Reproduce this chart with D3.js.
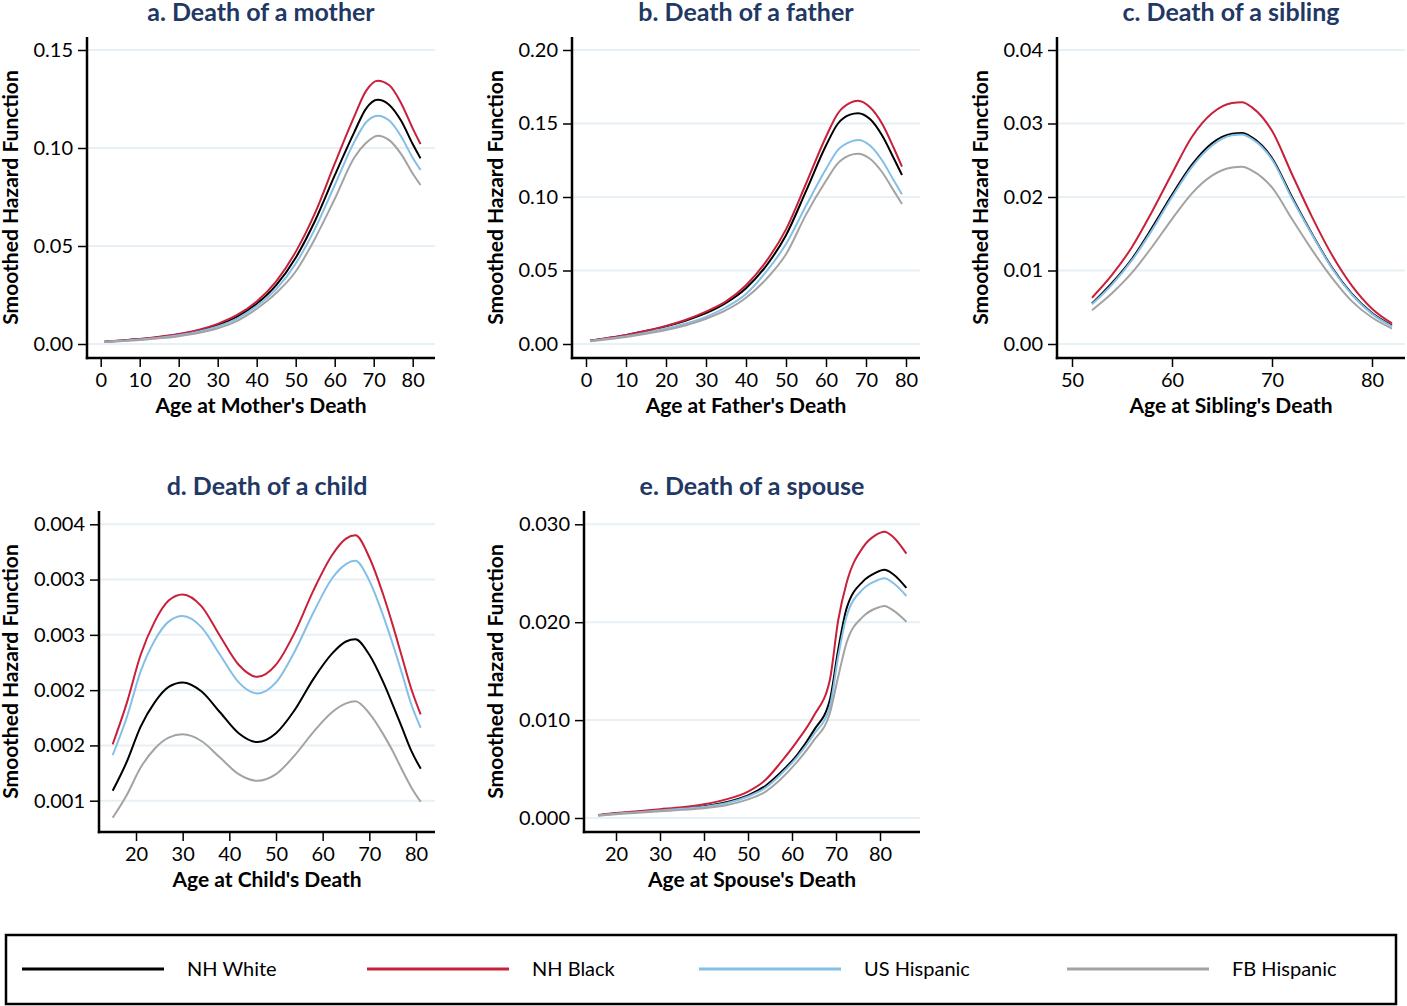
<!DOCTYPE html>
<html><head><meta charset="utf-8">
<script src="https://cdn.jsdelivr.net/npm/d3@7"></script>
<style>
body{margin:0;background:#fff;}
svg{display:block;font-family:Lato,'Open Sans',sans-serif;}
</style>
</head><body>
<svg id="chart" width="1407" height="1006"></svg>
<script>
// ---------- DATA ----------
const seriesNames = ["NH White", "NH Black", "US Hispanic", "FB Hispanic"];

// a. Death of a mother
const motherAges   = [1,5,10,15,20,25,30,35,40,45,50,55,60,65,68,71,74,77,80,82];
const motherWhite  = [0.0012,0.0017,0.0025,0.0035,0.0048,0.0068,0.0097,0.014,0.0205,0.030,0.044,0.063,0.086,0.108,0.120,0.1246,0.122,0.114,0.102,0.0947];
const motherBlack  = [0.0013,0.0018,0.0026,0.0037,0.0051,0.0072,0.0103,0.0148,0.0217,0.032,0.047,0.067,0.092,0.116,0.129,0.1343,0.132,0.123,0.110,0.102];
const motherUSHisp = [0.0011,0.0016,0.0023,0.0032,0.0045,0.0063,0.009,0.013,0.0194,0.028,0.041,0.059,0.081,0.103,0.113,0.1165,0.114,0.106,0.095,0.0888];
const motherFBHisp = [0.001,0.0014,0.002,0.0029,0.004,0.0056,0.008,0.0118,0.018,0.026,0.037,0.054,0.074,0.095,0.1025,0.1063,0.104,0.097,0.087,0.0811];
const motherXTicks = [0,10,20,30,40,50,60,70,80];
const motherYTicks = [0,0.05,0.10,0.15];
const motherYLabels = ["0.00","0.05","0.10","0.15"];

// b. Death of a father
const fatherAges   = [1,5,10,15,20,25,30,35,40,45,50,55,60,63,66,68,71,74,77,79];
const fatherWhite  = [0.0022,0.0038,0.006,0.0088,0.012,0.016,0.021,0.028,0.038,0.053,0.074,0.104,0.135,0.150,0.156,0.157,0.153,0.142,0.126,0.115];
const fatherBlack  = [0.0023,0.004,0.0062,0.009,0.0123,0.0165,0.022,0.029,0.040,0.056,0.078,0.109,0.141,0.157,0.164,0.1655,0.161,0.150,0.133,0.1206];
const fatherUSHisp = [0.002,0.0034,0.0053,0.0077,0.0105,0.014,0.0185,0.025,0.034,0.049,0.068,0.094,0.119,0.132,0.1375,0.1388,0.135,0.125,0.111,0.1018];
const fatherFBHisp = [0.0018,0.003,0.0048,0.007,0.0095,0.0128,0.0172,0.023,0.0315,0.044,0.061,0.088,0.111,0.123,0.1285,0.1295,0.126,0.117,0.104,0.0952];
const fatherXTicks = [0,10,20,30,40,50,60,70,80];
const fatherYTicks = [0,0.05,0.10,0.15,0.20];
const fatherYLabels = ["0.00","0.05","0.10","0.15","0.20"];

// c. Death of a sibling
const siblingAges   = [52,54,56,58,60,62,64,66,67,68,70,72,74,76,78,80,82];
const siblingWhite  = [0.0055,0.0083,0.0116,0.0158,0.0203,0.0244,0.0273,0.0286,0.0287,0.0281,0.0253,0.0200,0.0150,0.0104,0.0068,0.0042,0.0025];
const siblingBlack  = [0.0063,0.0094,0.0132,0.0180,0.0232,0.0282,0.0314,0.0328,0.0329,0.0322,0.0290,0.0231,0.0173,0.0121,0.0079,0.0048,0.0028];
const siblingUSHisp = [0.0054,0.0081,0.0114,0.0155,0.0200,0.0241,0.0270,0.0284,0.0285,0.0279,0.0251,0.0198,0.0149,0.0103,0.0067,0.0041,0.0024];
const siblingFBHisp = [0.0046,0.0069,0.0097,0.0132,0.0170,0.0205,0.0229,0.0240,0.0241,0.0236,0.0213,0.0170,0.0128,0.0090,0.0058,0.0036,0.0021];
const siblingXTicks = [50,60,70,80];
const siblingYTicks = [0,0.01,0.02,0.03,0.04];
const siblingYLabels = ["0.00","0.01","0.02","0.03","0.04"];

// d. Death of a child
const childAges   = [15,18,21,24,27,30,34,38,42,46,50,54,58,62,65,67,70,73,75,77,79,81];
const childWhite  = [0.00109,0.00135,0.00167,0.00189,0.00203,0.00207,0.00199,0.00180,0.00161,0.00153,0.00161,0.00182,0.00210,0.00233,0.00244,0.00246,0.00232,0.00207,0.00187,0.00166,0.00145,0.00129];
const childBlack  = [0.00151,0.00188,0.00232,0.00262,0.00281,0.002866,0.00276,0.00249,0.00223,0.00212,0.00223,0.00252,0.00290,0.00322,0.00337,0.0034,0.00320,0.00286,0.00259,0.00230,0.00201,0.00178];
const childUSHisp = [0.001413,0.00175,0.00217,0.00245,0.00262,0.00267,0.00257,0.00232,0.00207,0.00197,0.00207,0.00235,0.00270,0.00301,0.00314,0.00317,0.00299,0.00267,0.00242,0.00215,0.00187,0.00166];
const childFBHisp = [0.000846,0.00105,0.0013,0.00147,0.00157,0.0016,0.00154,0.00139,0.00124,0.00118,0.00124,0.00141,0.00162,0.0018,0.00188,0.0019,0.00179,0.0016,0.00145,0.00128,0.00112,0.00099];
const childXTicks = [20,30,40,50,60,70,80];
const childYTicks = [0.001,0.0015,0.002,0.0025,0.003,0.0035];
const childYLabels = ["0.001","0.002","0.002","0.003","0.003","0.004"];

// e. Death of a spouse
const spouseAges   = [16,20,25,30,35,40,45,50,54,57.3,61.1,64.9,68.6,70.5,72.4,76.2,79,81,83,86];
const spouseWhite  = [0.00028,0.00045,0.00063,0.0008,0.00098,0.0012,0.0016,0.0023,0.0033,0.0046,0.0064,0.0089,0.01205,0.0172,0.0214,0.0242,0.02505,0.02535,0.0249,0.0235];
const spouseBlack  = [0.0003,0.0005,0.0007,0.0009,0.0011,0.0014,0.0019,0.0027,0.0039,0.0056,0.0078,0.0104,0.0141,0.0202,0.0240,0.0277,0.0289,0.02925,0.0287,0.0270];
const spouseUSHisp = [0.00028,0.00044,0.0006,0.00077,0.00094,0.00115,0.0015,0.0022,0.0031,0.0044,0.0062,0.0085,0.01137,0.0165,0.0206,0.0234,0.0242,0.02448,0.0240,0.02268];
const spouseFBHisp = [0.00022,0.00038,0.00053,0.00068,0.00083,0.001,0.0013,0.0019,0.0027,0.0039,0.0057,0.0079,0.0107,0.01443,0.0179,0.0206,0.0214,0.02166,0.0212,0.02005];
const spouseXTicks = [20,30,40,50,60,70,80];
const spouseYTicks = [0,0.01,0.02,0.03];
const spouseYLabels = ["0.000","0.010","0.020","0.030"];

// ---------- STYLE / LAYOUT ----------
const colors = ["#000000", "#c8203a", "#84bfe8", "#a3a3a3"];
const titleColor = "#1f3864";
const gridColor = "#e7f0f4";
const yTitle = "Smoothed Hazard Function";

const panels = [
  {title:"a. Death of a mother", xTitle:"Age at Mother's Death", ages:motherAges,
   series:[motherWhite,motherBlack,motherUSHisp,motherFBHisp],
   xTicks:motherXTicks, yTicks:motherYTicks, yLabels:motherYLabels,
   box:{l:87,r:435,t:37,b:358}, xd:[0,80], xr:[100.7,412.7], yd:[0,0.15], yr:[344,50], yTitleX:18},
  {title:"b. Death of a father", xTitle:"Age at Father's Death", ages:fatherAges,
   series:[fatherWhite,fatherBlack,fatherUSHisp,fatherFBHisp],
   xTicks:fatherXTicks, yTicks:fatherYTicks, yLabels:fatherYLabels,
   box:{l:572,r:920,t:37,b:358}, xd:[0,80], xr:[586,906], yd:[0,0.20], yr:[344,50], yTitleX:503},
  {title:"c. Death of a sibling", xTitle:"Age at Sibling's Death", ages:siblingAges,
   series:[siblingWhite,siblingBlack,siblingUSHisp,siblingFBHisp],
   xTicks:siblingXTicks, yTicks:siblingYTicks, yLabels:siblingYLabels,
   box:{l:1057,r:1405,t:37,b:358}, xd:[50,80], xr:[1072,1372], yd:[0,0.04], yr:[344,50], yTitleX:988},
  {title:"d. Death of a child", xTitle:"Age at Child's Death", ages:childAges,
   series:[childWhite,childBlack,childUSHisp,childFBHisp],
   xTicks:childXTicks, yTicks:childYTicks, yLabels:childYLabels,
   box:{l:99,r:435,t:511,b:832}, xd:[20,80], xr:[136,416], yd:[0.001,0.0035], yr:[800.7,524.3], yTitleX:18},
  {title:"e. Death of a spouse", xTitle:"Age at Spouse's Death", ages:spouseAges,
   series:[spouseWhite,spouseBlack,spouseUSHisp,spouseFBHisp],
   xTicks:spouseXTicks, yTicks:spouseYTicks, yLabels:spouseYLabels,
   box:{l:584,r:920,t:511,b:832}, xd:[20,80], xr:[616,880], yd:[0,0.03], yr:[818,524.3], yTitleX:503}
];

const svg = d3.select("#chart");

panels.forEach(p => {
  const g = svg.append("g");
  const x = d3.scaleLinear().domain(p.xd).range(p.xr);
  const y = d3.scaleLinear().domain(p.yd).range(p.yr);
  const B = p.box;

  // gridlines
  g.selectAll("line.grid").data(p.yTicks).join("line")
    .attr("x1", B.l).attr("x2", B.r)
    .attr("y1", d => y(d)).attr("y2", d => y(d))
    .attr("stroke", gridColor).attr("stroke-width", 2);

  // series lines
  const line = d3.line().x((d,i) => x(p.ages[i])).y(d => y(d)).curve(d3.curveMonotoneX);
  p.series.forEach((s, k) => {
    g.append("path").attr("d", line(s)).attr("fill","none")
      .attr("stroke", colors[k]).attr("stroke-width", 2);
  });

  // y axis
  const ya = g.append("g").attr("transform", `translate(${B.l},0)`)
    .call(d3.axisLeft(y).tickValues(p.yTicks).tickFormat((d,i) => p.yLabels[i]).tickSize(9).tickPadding(5).tickSizeOuter(0));
  ya.select(".domain").remove();
  ya.selectAll(".tick line").attr("stroke","#000").attr("stroke-width",1.5);
  ya.selectAll(".tick text").attr("font-size",20).attr("fill","#000").attr("font-family","Lato,'Open Sans',sans-serif");

  // x axis
  const xa = g.append("g").attr("transform", `translate(0,${B.b})`)
    .call(d3.axisBottom(x).tickValues(p.xTicks).tickFormat(d3.format("d")).tickSize(9).tickPadding(6).tickSizeOuter(0));
  xa.select(".domain").remove();
  xa.selectAll(".tick line").attr("stroke","#000").attr("stroke-width",1.5);
  xa.selectAll(".tick text").attr("font-size",20).attr("fill","#000").attr("font-family","Lato,'Open Sans',sans-serif");

  // axis lines
  g.append("line").attr("x1",B.l).attr("x2",B.l).attr("y1",B.t).attr("y2",B.b+1.2)
    .attr("stroke","#000").attr("stroke-width",2.5);
  g.append("line").attr("x1",B.l-1.2).attr("x2",B.r).attr("y1",B.b).attr("y2",B.b)
    .attr("stroke","#000").attr("stroke-width",2.5);

  // titles
  const cx = (B.l + B.r) / 2;
  g.append("text").attr("x",cx).attr("y",B.t-16).attr("text-anchor","middle")
    .attr("font-size",25).attr("font-weight","bold").attr("fill",titleColor).text(p.title);
  g.append("text").attr("x",cx).attr("y",B.b+54.5).attr("text-anchor","middle")
    .attr("font-size",21).attr("font-weight","bold").attr("fill","#000").text(p.xTitle);
  g.append("text").attr("transform",`translate(${p.yTitleX},${(B.t+B.b)/2}) rotate(-90)`)
    .attr("text-anchor","middle").attr("font-size",21).attr("font-weight","bold").attr("fill","#000").text(yTitle);
});

// legend
const legend = svg.append("g");
legend.append("rect").attr("x",6).attr("y",935).attr("width",1390).attr("height",69)
  .attr("fill","none").attr("stroke","#000").attr("stroke-width",2.5);
const legendX = [22, 367, 699, 1067];
seriesNames.forEach((n,k) => {
  legend.append("line").attr("x1",legendX[k]).attr("x2",legendX[k]+142).attr("y1",969).attr("y2",969)
    .attr("stroke",colors[k]).attr("stroke-width",3);
  legend.append("text").attr("x",legendX[k]+165).attr("y",976).attr("font-size",20)
    .attr("fill","#000").text(n);
});
</script>
</body></html>
